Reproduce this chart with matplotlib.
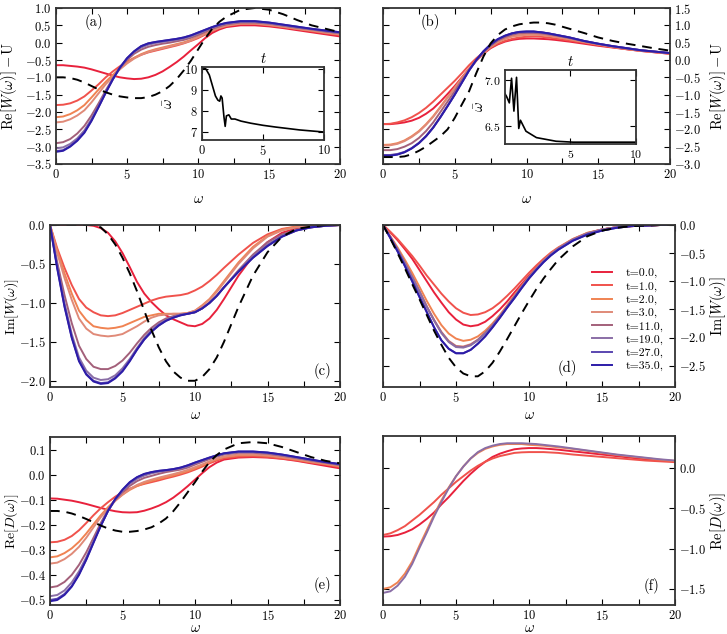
import matplotlib
matplotlib.use("Agg")
import matplotlib.pyplot as plt
from matplotlib.ticker import MultipleLocator

plt.rcParams['font.family'] = 'serif'
plt.rcParams['font.serif'] = ['cmr10']
plt.rcParams['mathtext.fontset'] = 'cm'
plt.rcParams['axes.formatter.use_mathtext'] = True
plt.rcParams['font.size'] = 10

# omega grid shared by all panels (finer where curves bend)
w = [0, 0.5, 1, 1.5, 2, 2.5, 3, 3.5, 4, 4.5, 5, 5.5, 6, 6.5, 7, 7.5, 8, 8.5, 9, 9.5, 10, 10.5, 11, 11.5, 12,
     13, 14, 15, 16, 17, 18, 19, 20]

times = ['t=0.0,', 't=1.0,', 't=2.0,', 't=3.0,', 't=11.0,', 't=19.0,', 't=27.0,', 't=35.0,']
colors = ['#e8213c', '#f0524c', '#f08352', '#e08a78', '#a3607a', '#8a6ea6', '#5a46b0', '#2c1ca8']

# (a) Re[W] - U
a_dash = [-1.0, -1.0, -1.02, -1.07, -1.15, -1.25, -1.35, -1.43, -1.5, -1.55, -1.58, -1.6, -1.6, -1.57, -1.5, -1.4, -1.25,
          -1.05, -0.8, -0.52, -0.2, 0.12, 0.4, 0.6, 0.75, 0.95, 1.0, 0.95, 0.82, 0.65, 0.5, 0.4, 0.3]
a_t0 = [-0.65, -0.65, -0.67, -0.69, -0.72, -0.77, -0.83, -0.89, -0.95, -1.0, -1.03, -1.05, -1.04, -1.0, -0.93, -0.83, -0.7,
        -0.56, -0.4, -0.22, -0.05, 0.13, 0.28, 0.38, 0.45, 0.5, 0.5, 0.47, 0.42, 0.36, 0.3, 0.24, 0.18]
a_t1 = [-1.8, -1.79, -1.75, -1.67, -1.55, -1.38, -1.2, -1.0, -0.83, -0.68, -0.55, -0.44, -0.35, -0.28, -0.23, -0.18, -0.13,
        -0.08, -0.02, 0.05, 0.13, 0.23, 0.33, 0.42, 0.48, 0.54, 0.54, 0.5, 0.45, 0.39, 0.33, 0.27, 0.22]
a_t2 = [-2.15, -2.13, -2.06, -1.95, -1.8, -1.58, -1.35, -1.13, -0.93, -0.74, -0.58, -0.44, -0.33, -0.25, -0.19, -0.14, -0.09,
        -0.04, 0.01, 0.08, 0.17, 0.26, 0.36, 0.44, 0.5, 0.56, 0.56, 0.52, 0.46, 0.4, 0.35, 0.29, 0.24]
a_t3 = [-2.3, -2.28, -2.21, -2.1, -1.95, -1.72, -1.46, -1.2, -0.98, -0.77, -0.6, -0.46, -0.35, -0.27, -0.21, -0.16, -0.11,
        -0.06, -0.01, 0.06, 0.16, 0.25, 0.35, 0.43, 0.49, 0.55, 0.55, 0.51, 0.46, 0.4, 0.35, 0.29, 0.24]
a_t11 = [-2.9, -2.87, -2.78, -2.62, -2.4, -2.1, -1.75, -1.38, -1.03, -0.73, -0.5, -0.32, -0.2, -0.12, -0.07, -0.03, 0.0,
         0.04, 0.08, 0.14, 0.22, 0.31, 0.4, 0.47, 0.53, 0.58, 0.58, 0.55, 0.49, 0.43, 0.38, 0.32, 0.27]
a_t19 = [-3.05, -3.02, -2.92, -2.76, -2.53, -2.2, -1.82, -1.42, -1.05, -0.72, -0.46, -0.27, -0.14, -0.06, -0.01, 0.02, 0.05,
         0.08, 0.12, 0.18, 0.26, 0.34, 0.43, 0.5, 0.55, 0.6, 0.6, 0.56, 0.5, 0.44, 0.39, 0.33, 0.28]
a_t27 = [-3.13, -3.1, -2.98, -2.81, -2.58, -2.24, -1.85, -1.44, -1.06, -0.72, -0.45, -0.25, -0.1, -0.02, 0.02, 0.05, 0.08,
         0.11, 0.15, 0.21, 0.29, 0.37, 0.45, 0.52, 0.57, 0.62, 0.62, 0.58, 0.52, 0.46, 0.4, 0.35, 0.3]
a_t35 = [-3.15, -3.12, -3.0, -2.83, -2.6, -2.26, -1.86, -1.45, -1.06, -0.72, -0.45, -0.25, -0.1, -0.02, 0.02, 0.05, 0.08,
         0.11, 0.15, 0.21, 0.29, 0.37, 0.45, 0.52, 0.57, 0.62, 0.62, 0.58, 0.52, 0.46, 0.4, 0.35, 0.3]
a_ins_t = [0, 0.3, 0.6, 0.9, 1.1, 1.3, 1.45, 1.55, 1.65, 1.8, 1.9, 2.0, 2.2, 2.4, 2.7, 3.2, 4, 5, 6, 7, 8, 9, 10]
a_ins_w = [10.05, 10.0, 9.7, 9.1, 8.7, 8.5, 8.45, 8.7, 8.6, 7.7, 7.25, 7.75, 7.8, 7.6, 7.6, 7.5, 7.4, 7.3, 7.22, 7.15,
           7.08, 7.03, 6.98]

# (b) Re[W] - U
b_dash = [-2.8, -2.8, -2.8, -2.78, -2.72, -2.62, -2.5, -2.35, -2.2, -2.0, -1.67, -1.28, -0.9, -0.38, 0.1, 0.48, 0.72,
          0.88, 0.97, 1.03, 1.06, 1.08, 1.08, 1.06, 1.02, 0.9, 0.78, 0.65, 0.55, 0.47, 0.4, 0.33, 0.27]
b_t0 = [-1.85, -1.85, -1.83, -1.8, -1.75, -1.67, -1.55, -1.4, -1.2, -0.98, -0.75, -0.5, -0.25, -0.02, 0.18, 0.34, 0.45,
        0.53, 0.58, 0.61, 0.62, 0.62, 0.61, 0.6, 0.58, 0.53, 0.47, 0.41, 0.36, 0.31, 0.26, 0.22, 0.18]
b_t1 = [-1.85, -1.84, -1.8, -1.74, -1.65, -1.53, -1.38, -1.2, -1.0, -0.8, -0.6, -0.38, -0.15, 0.05, 0.22, 0.36, 0.47,
        0.55, 0.61, 0.65, 0.67, 0.68, 0.67, 0.65, 0.62, 0.56, 0.5, 0.43, 0.37, 0.31, 0.26, 0.22, 0.18]
b_t2 = [-2.45, -2.44, -2.4, -2.32, -2.2, -2.05, -1.85, -1.62, -1.35, -1.07, -0.8, -0.52, -0.25, 0.0, 0.2, 0.38, 0.52,
        0.61, 0.68, 0.71, 0.73, 0.73, 0.72, 0.7, 0.67, 0.6, 0.52, 0.45, 0.38, 0.32, 0.27, 0.23, 0.19]
b_t3 = [-2.47, -2.46, -2.42, -2.34, -2.22, -2.07, -1.87, -1.64, -1.37, -1.09, -0.81, -0.53, -0.26, 0.0, 0.2, 0.38, 0.52,
        0.61, 0.68, 0.71, 0.73, 0.73, 0.72, 0.7, 0.67, 0.6, 0.52, 0.45, 0.38, 0.32, 0.27, 0.23, 0.19]
b_t11 = [-2.6, -2.6, -2.57, -2.5, -2.4, -2.25, -2.05, -1.8, -1.5, -1.2, -0.9, -0.58, -0.28, -0.02, 0.22, 0.41, 0.56,
         0.66, 0.73, 0.77, 0.78, 0.78, 0.77, 0.74, 0.71, 0.63, 0.54, 0.46, 0.39, 0.33, 0.28, 0.24, 0.2]
b_t19 = [-2.74, -2.74, -2.71, -2.65, -2.54, -2.39, -2.19, -1.94, -1.64, -1.32, -0.99, -0.64, -0.3, 0.0, 0.25, 0.45, 0.6,
         0.7, 0.77, 0.81, 0.82, 0.82, 0.8, 0.77, 0.73, 0.65, 0.55, 0.47, 0.4, 0.34, 0.28, 0.24, 0.2]
b_t27 = [-2.75, -2.75, -2.72, -2.66, -2.55, -2.4, -2.2, -1.95, -1.65, -1.33, -1.0, -0.65, -0.3, 0.0, 0.25, 0.45, 0.6,
         0.7, 0.77, 0.81, 0.82, 0.82, 0.8, 0.77, 0.73, 0.65, 0.55, 0.47, 0.4, 0.34, 0.28, 0.24, 0.2]
b_t35 = [-2.76, -2.76, -2.73, -2.66, -2.55, -2.4, -2.2, -1.95, -1.65, -1.33, -1.0, -0.65, -0.3, 0.0, 0.25, 0.45, 0.6,
         0.7, 0.77, 0.81, 0.82, 0.82, 0.8, 0.77, 0.73, 0.65, 0.55, 0.47, 0.4, 0.34, 0.28, 0.24, 0.2]
b_ins_t = [0, 0.12, 0.33, 0.5, 0.68, 0.88, 1.05, 1.18, 1.6, 2.4, 3.9, 5.2, 7, 10]
b_ins_w = [6.85, 6.82, 6.75, 7.02, 6.66, 7.03, 6.47, 6.56, 6.44, 6.37, 6.33, 6.32, 6.32, 6.32]

# (c) Im[W]
c_dash = [0, 0, 0, 0, 0, 0, 0, -0.03, -0.12, -0.25, -0.42, -0.62, -0.85, -1.1, -1.35, -1.57, -1.75, -1.88, -1.96, -2.0,
          -2.0, -1.95, -1.85, -1.7, -1.5, -1.05, -0.65, -0.35, -0.15, -0.05, -0.02, 0, 0]
c_t0 = [0, 0, 0, 0, 0, 0, -0.01, -0.04, -0.1, -0.21, -0.36, -0.54, -0.73, -0.88, -0.99, -1.08, -1.16, -1.21, -1.25, -1.29,
        -1.3, -1.27, -1.2, -1.09, -0.95, -0.65, -0.4, -0.22, -0.1, -0.04, -0.02, -0.01, 0]
c_t1 = [0, -0.3, -0.55, -0.77, -0.95, -1.06, -1.12, -1.16, -1.17, -1.16, -1.13, -1.09, -1.05, -1.01, -0.97, -0.94, -0.92,
        -0.91, -0.9, -0.88, -0.84, -0.79, -0.72, -0.64, -0.55, -0.38, -0.23, -0.12, -0.05, -0.02, 0, 0, 0]
c_t2 = [0, -0.33, -0.62, -0.88, -1.1, -1.22, -1.3, -1.32, -1.33, -1.32, -1.3, -1.26, -1.22, -1.18, -1.16, -1.14, -1.14,
        -1.14, -1.14, -1.13, -1.1, -1.03, -0.95, -0.84, -0.72, -0.48, -0.28, -0.14, -0.06, -0.02, -0.01, 0, 0]
c_t3 = [0, -0.36, -0.68, -0.96, -1.2, -1.33, -1.4, -1.42, -1.43, -1.42, -1.4, -1.35, -1.3, -1.24, -1.19, -1.16, -1.15,
        -1.14, -1.14, -1.13, -1.1, -1.04, -0.96, -0.86, -0.74, -0.5, -0.3, -0.15, -0.07, -0.03, -0.01, 0, 0]
c_t11 = [0, -0.48, -0.9, -1.26, -1.55, -1.72, -1.82, -1.85, -1.85, -1.81, -1.74, -1.64, -1.52, -1.41, -1.32, -1.25, -1.2,
         -1.17, -1.15, -1.14, -1.12, -1.07, -1.0, -0.91, -0.8, -0.58, -0.38, -0.22, -0.12, -0.06, -0.03, -0.01, 0]
c_t19 = [0, -0.53, -1.0, -1.4, -1.7, -1.87, -1.96, -1.99, -1.98, -1.93, -1.84, -1.72, -1.58, -1.45, -1.35, -1.27, -1.22,
         -1.18, -1.15, -1.14, -1.12, -1.07, -1.0, -0.91, -0.8, -0.59, -0.4, -0.25, -0.14, -0.07, -0.03, -0.01, 0]
c_t27 = [0, -0.55, -1.04, -1.44, -1.74, -1.91, -2.0, -2.03, -2.02, -1.96, -1.87, -1.74, -1.6, -1.47, -1.37, -1.29, -1.23,
         -1.19, -1.16, -1.14, -1.12, -1.07, -1.0, -0.91, -0.8, -0.6, -0.42, -0.27, -0.15, -0.07, -0.03, -0.01, 0]
c_t35 = [0, -0.56, -1.05, -1.45, -1.75, -1.92, -2.01, -2.04, -2.03, -1.97, -1.88, -1.75, -1.6, -1.47, -1.37, -1.29, -1.23,
         -1.19, -1.16, -1.14, -1.12, -1.07, -1.0, -0.91, -0.8, -0.6, -0.42, -0.27, -0.15, -0.07, -0.03, -0.01, 0]

# (d) Im[W]
d_dash = [0, -0.24, -0.5, -0.77, -1.05, -1.32, -1.6, -1.88, -2.13, -2.36, -2.53, -2.64, -2.69, -2.69, -2.6, -2.45, -2.25,
          -2.03, -1.8, -1.57, -1.35, -1.14, -0.95, -0.78, -0.62, -0.38, -0.2, -0.1, -0.05, -0.02, -0.01, 0, 0]
d_t0 = [0, -0.13, -0.27, -0.43, -0.6, -0.8, -1.0, -1.2, -1.38, -1.55, -1.68, -1.77, -1.8, -1.78, -1.72, -1.62, -1.5,
        -1.36, -1.2, -1.05, -0.9, -0.76, -0.63, -0.52, -0.42, -0.26, -0.15, -0.08, -0.04, -0.02, -0.01, 0, 0]
d_t1 = [0, -0.12, -0.25, -0.4, -0.55, -0.72, -0.9, -1.06, -1.22, -1.36, -1.48, -1.56, -1.6, -1.59, -1.55, -1.48, -1.38,
        -1.26, -1.13, -0.99, -0.85, -0.72, -0.6, -0.49, -0.4, -0.25, -0.14, -0.08, -0.04, -0.02, -0.01, 0, 0]
d_t2 = [0, -0.2, -0.4, -0.62, -0.85, -1.1, -1.35, -1.58, -1.78, -1.93, -2.02, -2.06, -2.04, -1.98, -1.88, -1.75, -1.6,
        -1.43, -1.25, -1.08, -0.92, -0.77, -0.63, -0.51, -0.41, -0.25, -0.14, -0.08, -0.04, -0.02, -0.01, 0, 0]
d_t3 = [0, -0.21, -0.43, -0.67, -0.92, -1.18, -1.45, -1.69, -1.9, -2.06, -2.15, -2.16, -2.12, -2.04, -1.92, -1.78, -1.62,
        -1.45, -1.27, -1.1, -0.93, -0.78, -0.64, -0.52, -0.42, -0.26, -0.15, -0.08, -0.04, -0.02, -0.01, 0, 0]
d_t11 = [0, -0.21, -0.43, -0.67, -0.92, -1.18, -1.45, -1.69, -1.91, -2.07, -2.16, -2.17, -2.13, -2.04, -1.92, -1.78, -1.62,
         -1.45, -1.27, -1.1, -0.93, -0.78, -0.64, -0.52, -0.42, -0.26, -0.15, -0.08, -0.04, -0.02, -0.01, 0, 0]
d_t19 = [0, -0.22, -0.44, -0.68, -0.93, -1.19, -1.46, -1.7, -1.92, -2.08, -2.17, -2.18, -2.14, -2.05, -1.93, -1.79, -1.63,
         -1.46, -1.28, -1.1, -0.93, -0.78, -0.64, -0.52, -0.42, -0.26, -0.15, -0.08, -0.04, -0.02, -0.01, 0, 0]
d_t27 = [0, -0.23, -0.47, -0.73, -1.0, -1.28, -1.55, -1.82, -2.05, -2.2, -2.28, -2.28, -2.22, -2.11, -1.98, -1.82, -1.65,
         -1.47, -1.3, -1.12, -0.95, -0.8, -0.66, -0.54, -0.44, -0.28, -0.17, -0.1, -0.05, -0.02, -0.01, 0, 0]
d_t35 = [0, -0.23, -0.47, -0.73, -1.0, -1.28, -1.55, -1.82, -2.05, -2.2, -2.28, -2.28, -2.22, -2.11, -1.98, -1.82, -1.65,
         -1.47, -1.3, -1.12, -0.95, -0.8, -0.66, -0.54, -0.44, -0.28, -0.17, -0.1, -0.05, -0.02, -0.01, 0, 0]

# (e) Re[D]
e_dash = [-0.145, -0.145, -0.148, -0.155, -0.165, -0.177, -0.19, -0.203, -0.215, -0.223, -0.228, -0.228, -0.225, -0.219,
          -0.21, -0.195, -0.175, -0.146, -0.11, -0.07, -0.03, 0.012, 0.05, 0.078, 0.1, 0.125, 0.13, 0.125, 0.11, 0.09,
          0.07, 0.055, 0.045]
e_t0 = [-0.095, -0.096, -0.1, -0.104, -0.11, -0.117, -0.125, -0.133, -0.14, -0.146, -0.15, -0.151, -0.15, -0.144, -0.135,
        -0.124, -0.11, -0.092, -0.07, -0.046, -0.02, 0.006, 0.03, 0.048, 0.06, 0.068, 0.07, 0.068, 0.063, 0.055, 0.045,
        0.035, 0.025]
e_t1 = [-0.27, -0.268, -0.26, -0.245, -0.222, -0.193, -0.162, -0.134, -0.11, -0.088, -0.07, -0.056, -0.045, -0.037, -0.03,
        -0.023, -0.015, -0.008, 0.0, 0.009, 0.02, 0.032, 0.045, 0.056, 0.065, 0.072, 0.073, 0.07, 0.064, 0.057, 0.048,
        0.04, 0.03]
e_t2 = [-0.33, -0.326, -0.313, -0.294, -0.268, -0.235, -0.198, -0.162, -0.13, -0.102, -0.08, -0.061, -0.046, -0.034,
        -0.025, -0.017, -0.01, -0.003, 0.005, 0.014, 0.025, 0.037, 0.05, 0.061, 0.07, 0.077, 0.078, 0.075, 0.068, 0.06,
        0.05, 0.042, 0.033]
e_t3 = [-0.355, -0.351, -0.337, -0.316, -0.288, -0.252, -0.21, -0.17, -0.135, -0.105, -0.08, -0.058, -0.041, -0.029,
        -0.02, -0.012, -0.005, 0.002, 0.01, 0.019, 0.03, 0.041, 0.053, 0.064, 0.072, 0.08, 0.08, 0.077, 0.07, 0.062,
        0.052, 0.044, 0.035]
e_t11 = [-0.45, -0.445, -0.428, -0.4, -0.36, -0.31, -0.252, -0.193, -0.14, -0.1, -0.07, -0.045, -0.026, -0.013, -0.005,
         0.003, 0.01, 0.015, 0.02, 0.028, 0.04, 0.051, 0.062, 0.072, 0.08, 0.087, 0.087, 0.083, 0.075, 0.066, 0.056,
         0.047, 0.038]
e_t19 = [-0.485, -0.48, -0.462, -0.43, -0.386, -0.33, -0.266, -0.202, -0.145, -0.1, -0.065, -0.037, -0.017, -0.004,
         0.005, 0.011, 0.016, 0.02, 0.025, 0.033, 0.045, 0.055, 0.066, 0.075, 0.083, 0.09, 0.09, 0.086, 0.078, 0.068,
         0.058, 0.049, 0.04]
e_t27 = [-0.5, -0.495, -0.476, -0.444, -0.397, -0.338, -0.27, -0.204, -0.145, -0.098, -0.061, -0.031, -0.011, 0.002,
         0.01, 0.015, 0.018, 0.022, 0.028, 0.037, 0.048, 0.058, 0.068, 0.077, 0.085, 0.092, 0.092, 0.088, 0.08, 0.07,
         0.06, 0.05, 0.042]
e_t35 = [-0.505, -0.5, -0.48, -0.447, -0.4, -0.34, -0.272, -0.205, -0.145, -0.097, -0.06, -0.03, -0.01, 0.003, 0.01,
         0.015, 0.018, 0.022, 0.028, 0.037, 0.048, 0.058, 0.068, 0.077, 0.085, 0.092, 0.092, 0.088, 0.08, 0.07, 0.06,
         0.05, 0.042]

# (f) Re[D], only four time slices drawn: t=0, 1, 2, 19
f_t0 = [-0.85, -0.845, -0.83, -0.8, -0.76, -0.7, -0.63, -0.55, -0.45, -0.36, -0.26, -0.16, -0.07, 0.01, 0.08, 0.14, 0.18,
        0.21, 0.235, 0.245, 0.25, 0.25, 0.245, 0.238, 0.23, 0.21, 0.19, 0.17, 0.15, 0.13, 0.11, 0.1, 0.085]
f_t1 = [-0.83, -0.81, -0.77, -0.72, -0.65, -0.58, -0.5, -0.42, -0.33, -0.25, -0.17, -0.1, -0.03, 0.03, 0.08, 0.12, 0.15,
        0.17, 0.19, 0.197, 0.2, 0.2, 0.2, 0.195, 0.19, 0.17, 0.155, 0.14, 0.125, 0.11, 0.095, 0.085, 0.075]
f_t2 = [-1.5, -1.48, -1.42, -1.31, -1.16, -0.96, -0.77, -0.58, -0.4, -0.24, -0.1, 0.02, 0.12, 0.19, 0.24, 0.27, 0.29, 0.3,
        0.3, 0.3, 0.29, 0.285, 0.28, 0.27, 0.26, 0.24, 0.215, 0.19, 0.165, 0.145, 0.125, 0.105, 0.09]
f_t19 = [-1.55, -1.53, -1.46, -1.35, -1.19, -0.99, -0.8, -0.6, -0.42, -0.25, -0.1, 0.02, 0.12, 0.2, 0.25, 0.28, 0.3, 0.31,
         0.31, 0.31, 0.305, 0.3, 0.29, 0.28, 0.27, 0.245, 0.22, 0.195, 0.17, 0.15, 0.13, 0.11, 0.095]

W, H = 727, 634
fig = plt.figure(figsize=(W / 100, H / 100), dpi=100)


def box(l, r, t, b):
    return [l / W, 1 - b / H, (r - l) / W, (b - t) / H]


def style(ax, right=False, size=9):
    ax.tick_params(direction='in', top=True, right=True, length=4, width=0.8, labelsize=size, pad=3)
    ax.tick_params(which='minor', direction='in', top=True, right=True, length=4, width=0.8)
    for s in ax.spines.values():
        s.set_linewidth(1.3)
        s.set_color('#333333')
    if right:
        ax.yaxis.tick_right()
        ax.yaxis.set_label_position('right')
        ax.tick_params(left=True, which='both')


def draw(ax, curves, idx, dash=None):
    for c, i in zip(curves, idx):
        ax.plot(w, c, color=colors[i], lw=1.4, label=times[i])
    if dash is not None:
        ax.plot(w, dash, color='black', lw=1.4, ls=(0, (5, 3.5)))
    ax.set_xlim(0, 20)
    ax.xaxis.set_major_locator(MultipleLocator(5))
    ax.xaxis.set_minor_locator(MultipleLocator(2.5))


all8 = range(8)
lab = 10.5

# (a)
ax = fig.add_axes(box(56, 340, 8, 164))
draw(ax, [a_t0, a_t1, a_t2, a_t3, a_t11, a_t19, a_t27, a_t35], all8, a_dash)
ax.set_ylim(-3.5, 1.0)
ax.yaxis.set_major_locator(MultipleLocator(0.5))
style(ax)
ax.set_ylabel(r'$\mathrm{Re}[W(\omega)]-\mathrm{U}$', fontsize=lab)
ax.yaxis.set_label_coords(-0.13, 0.5)
ax.set_xlabel(r'$\omega$', fontsize=lab, labelpad=7)
ax.text(0.1, 0.91, '(a)', transform=ax.transAxes, fontsize=10.5, va='center')

ins = fig.add_axes(box(202, 324, 67, 140))
ins.plot(a_ins_t, a_ins_w, color='black', lw=1.2)
ins.set_xlim(0, 10)
ins.set_ylim(6.6, 10.08)
ins.set_xticks([0, 5, 10])
ins.set_yticks([7, 8, 9, 10])
style(ins)
ins.set_xlabel(r'$t$', fontsize=lab, labelpad=3)
ins.xaxis.set_label_position('top')
ins.set_ylabel(r'$\bar{\omega}$', fontsize=lab)
ins.yaxis.set_label_coords(-0.21, 0.5)

# (b)
ax = fig.add_axes(box(383, 670, 8, 164))
draw(ax, [b_t0, b_t1, b_t2, b_t3, b_t11, b_t19, b_t27, b_t35], all8, b_dash)
ax.set_ylim(-3.0, 1.5)
ax.yaxis.set_major_locator(MultipleLocator(0.5))
style(ax, right=True)
ax.set_ylabel(r'$\mathrm{Re}[W(\omega)]-\mathrm{U}$', fontsize=lab)
ax.yaxis.set_label_coords(1.132, 0.5)
ax.set_xlabel(r'$\omega$', fontsize=lab, labelpad=7)
ax.text(0.13, 0.91, '(b)', transform=ax.transAxes, fontsize=10.5, va='center')

ins = fig.add_axes(box(505, 636, 70, 144))
ins.plot(b_ins_t, b_ins_w, color='black', lw=1.2)
ins.set_xlim(0, 10)
ins.set_ylim(6.3, 7.11)
ins.set_xticks([5, 10])
ins.set_yticks([6.5, 7.0])
style(ins, size=8.5)
ins.set_xlabel(r'$t$', fontsize=lab, labelpad=3)
ins.xaxis.set_label_position('top')
ins.set_ylabel(r'$\bar{\omega}$', fontsize=lab)
ins.yaxis.set_label_coords(-0.137, 0.5)

# (c)
ax = fig.add_axes(box(50, 340, 225, 387))
draw(ax, [c_t0, c_t1, c_t2, c_t3, c_t11, c_t19, c_t27, c_t35], all8, c_dash)
ax.set_ylim(-2.08, 0.0)
ax.yaxis.set_major_locator(MultipleLocator(0.5))
style(ax)
ax.set_ylabel(r'$\mathrm{Im}[W(\omega)]$', fontsize=10)
ax.yaxis.set_label_coords(-0.1, 0.5)
ax.set_xlabel(r'$\omega$', fontsize=lab, labelpad=2)
ax.text(0.94, 0.1, '(c)', transform=ax.transAxes, fontsize=10.5, ha='center', va='center')

# (d)
ax = fig.add_axes(box(383, 675, 225, 387))
draw(ax, [d_t0, d_t1, d_t2, d_t3, d_t11, d_t19, d_t27, d_t35], all8, d_dash)
ax.set_ylim(-2.88, 0.0)
ax.yaxis.set_major_locator(MultipleLocator(0.5))
style(ax, right=True)
ax.set_ylabel(r'$\mathrm{Im}[W(\omega)]$', fontsize=lab)
ax.yaxis.set_label_coords(1.113, 0.5)
ax.set_xlabel(r'$\omega$', fontsize=lab, labelpad=2)
ax.text(0.63, 0.12, '(d)', transform=ax.transAxes, fontsize=10.5, ha='center', va='center')
ax.legend(loc='lower right', frameon=False, fontsize=8.5, handlelength=1.7, handletextpad=1.1,
          labelspacing=0.24, borderaxespad=0.0, bbox_to_anchor=(0.976, 0.068))

# (e)
ax = fig.add_axes(box(50, 340, 437, 605))
draw(ax, [e_t0, e_t1, e_t2, e_t3, e_t11, e_t19, e_t27, e_t35], all8, e_dash)
ax.set_ylim(-0.52, 0.15)
ax.yaxis.set_major_locator(MultipleLocator(0.1))
style(ax)
ax.set_ylabel(r'$\mathrm{Re}[D(\omega)]$', fontsize=10)
ax.yaxis.set_label_coords(-0.1, 0.5)
ax.set_xlabel(r'$\omega$', fontsize=lab, labelpad=-1)
ax.text(0.94, 0.12, '(e)', transform=ax.transAxes, fontsize=10.5, ha='center', va='center')

# (f)
ax = fig.add_axes(box(383, 675, 436, 605))
draw(ax, [f_t0, f_t1, f_t2, f_t19], [0, 1, 2, 5])
ax.set_ylim(-1.7, 0.4)
ax.yaxis.set_major_locator(MultipleLocator(0.5))
style(ax, right=True)
ax.set_ylabel(r'$\mathrm{Re}[D(\omega)]$', fontsize=lab)
ax.yaxis.set_label_coords(1.113, 0.5)
ax.set_xlabel(r'$\omega$', fontsize=lab, labelpad=-1)
ax.text(0.92, 0.11, '(f)', transform=ax.transAxes, fontsize=10.5, ha='center', va='center')

fig.savefig('out.png', dpi=100)
